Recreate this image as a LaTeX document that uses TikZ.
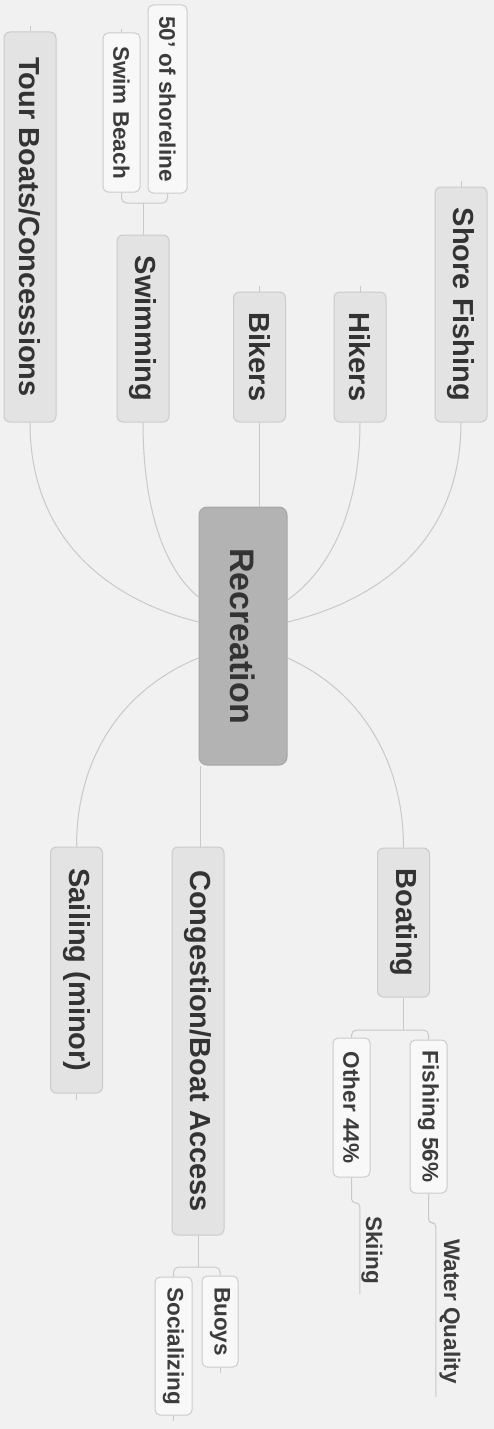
\documentclass[tikz,border=0pt]{standalone}
\usepackage{fontspec}
\setmainfont{Liberation Sans}
\usepackage{graphicx}
\usetikzlibrary{calc}
\definecolor{bg}{HTML}{F1F1F1}
\definecolor{mainfill}{HTML}{E3E3E3}
\definecolor{mainline}{HTML}{CBCBCB}
\definecolor{smallfill}{HTML}{F8F8F8}
\definecolor{recfill}{HTML}{B3B3B3}
\definecolor{recline}{HTML}{A6A6A6}
\definecolor{connc}{HTML}{C9C9C9}
\definecolor{txt}{HTML}{333333}
\definecolor{txtsmall}{HTML}{3C3C3C}
\tikzset{
  box/.style={draw, rectangle, inner sep=0pt, text=txt, line width=1pt},
  mainbox/.style={box, fill=mainfill, draw=mainline, rounded corners=6pt, minimum width=52pt,
    font=\fontsize{29}{29}\selectfont\bfseries},
  smallbox/.style={box, fill=smallfill, draw=mainline, rounded corners=5pt, minimum width=37pt,
    text=txtsmall, font=\fontsize{22.5}{22.5}\selectfont\bfseries},
  recbox/.style={box, fill=recfill, draw=recline, rounded corners=8pt, minimum width=88pt,
    font=\fontsize{34}{34}\selectfont\bfseries},
  plain/.style={rectangle, inner sep=0pt, text=txtsmall, font=\fontsize{22.5}{22.5}\selectfont\bfseries},
  conn/.style={draw=connc, line width=1pt},
}
\newcommand{\rt}[1]{\rotatebox{-90}{#1}}
\begin{document}
\begin{tikzpicture}[x=1pt,y=-1pt]
\fill[bg] (0,0) rectangle (494,1429);
\useasboundingbox (0,0) rectangle (494,1429);

% top row
\node[mainbox, minimum height=390pt] (tour) at (30,227) {\rt{Tour Boats/Concessions}};
\node[mainbox, minimum height=187pt] (swim) at (143,328.5) {\rt{Swimming}};
\node[smallbox, minimum height=159pt] (beach) at (121.5,112.5) {\rt{Swim Beach}};
\node[smallbox, minimum height=188pt, minimum width=39pt] (shore50) at (167.5,99) {\rt{50' of shoreline}};
\node[mainbox, minimum height=130pt] (bikers) at (259.5,357) {\rt{Bikers}};
\node[mainbox, minimum height=130pt] (hikers) at (360,357) {\rt{Hikers}};
\node[mainbox, minimum height=235pt] (shoref) at (461,304.5) {\rt{Shore Fishing}};

% centre
\node[recbox, minimum height=258pt] (rec) at (243,636) {\rt{Recreation}};

% bottom row
\node[mainbox, minimum height=246pt] (sail) at (76.5,970) {\rt{Sailing (minor)}};
\node[mainbox, minimum height=388pt] (cong) at (198,1041) {\rt{Congestion/Boat Access}};
\node[mainbox, minimum height=149pt] (boat) at (403.5,922.5) {\rt{Boating}};
\node[smallbox, minimum height=139pt] (other) at (351.5,1107.5) {\rt{Other 44\%}};
\node[smallbox, minimum height=153pt] (fish) at (428.5,1116.5) {\rt{Fishing 56\%}};
\node[plain, minimum width=22pt, minimum height=88pt] (ski) at (372,1250) {\rt{Skiing}};
\node[plain, minimum width=26pt, minimum height=171pt] (water) at (450,1311.5) {\rt{Water Quality}};
\node[smallbox, minimum height=91pt, minimum width=36pt] (buoys) at (220,1321.5) {\rt{Buoys}};
\node[smallbox, minimum height=138pt] (social) at (173.5,1346) {\rt{Socializing}};

% connectors to centre
\draw[conn] (tour.south) .. controls (30,540) and (110,600) .. ([yshift=14pt]rec.west);
\draw[conn] (swim.south) .. controls (143,510) and (165,570) .. ([yshift=39pt]rec.west);
\draw[conn] (bikers.south) -- (rec.north -| bikers.south);
\draw[conn] (hikers.south) .. controls (360,510) and (330,570) .. ([yshift=36pt]rec.east);
\draw[conn] (shoref.south) .. controls (461,540) and (380,600) .. ([yshift=14pt]rec.east);
\draw[conn] ([yshift=-22pt]rec.west) .. controls (120,690) and (76.5,760) .. (sail.north);
\draw[conn] ([xshift=2pt]rec.south west) -- ([xshift=2pt]rec.south west |- cong.north);
\draw[conn] ([yshift=-22pt]rec.east) .. controls (360,690) and (403.5,760) .. (boat.north);

% brackets
\coordinate (sj) at (143,203);
\draw[conn, rounded corners=5pt] (beach.south) |- (sj) -| (shore50.south);
\draw[conn] (swim.north) -- (sj);
\coordinate (bj) at (403.5,1030);
\draw[conn, rounded corners=5pt] (other.north) |- (bj) -| (fish.north);
\draw[conn] (boat.south) -- (bj);
\coordinate (cj) at (198,1267);
\draw[conn, rounded corners=5pt] (social.north) |- (cj) -| (buoys.north);
\draw[conn] (cong.south) -- (cj);

% underline-style leaves
\draw[conn, rounded corners=4pt] (other.south) |- ($(ski.north west)+(-1,-3)$) -- ($(ski.south west)+(-1,0)$);
\draw[conn, rounded corners=4pt] (fish.south) |- ($(water.north west)+(-1,-3)$) -- ($(water.south west)+(-1,0)$);

% small stubs
\draw[conn] (tour.north) -- ++(0,-5);
\draw[conn] (beach.north) -- ++(0,-3);
\draw[conn] (bikers.north) -- ++(0,-6);
\draw[conn] (hikers.north) -- ++(0,-6);
\draw[conn] (shoref.north) -- ++(0,-6);
\draw[conn] (sail.south) -- ++(0,6);
\draw[conn] (buoys.south) -- ++(0,5);
\draw[conn] (social.south) -- ++(0,5);
\end{tikzpicture}
\end{document}
